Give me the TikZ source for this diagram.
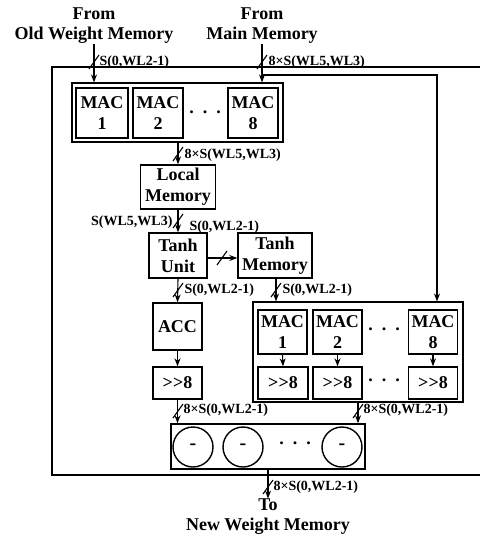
\documentclass[tikz,border=0pt]{standalone}
\usepackage{fontspec}
\setmainfont{Liberation Serif}
\usetikzlibrary{arrows.meta,positioning,calc}

% slash on a bus line
\newcommand{\busmark}[1]{\draw[line width=1.1pt] (#1) ++(-5,7) -- ++(10,-14);}

\begin{document}
\begin{tikzpicture}[x=1pt,y=-1pt,line width=1.1pt,
  every node/.style={font=\fontsize{18}{21}\selectfont\bfseries,align=center},
  box/.style={draw,line width=1.4pt,inner sep=0pt},
  grp/.style={draw,line width=1.1pt,inner sep=0pt},
  lbl/.style={font=\fontsize{14}{16}\selectfont\bfseries,inner sep=0pt},
  head/.style={font=\fontsize{18}{20}\selectfont\bfseries,inner sep=0pt},
  bus/.style={-{Stealth[length=8pt,width=6pt]}},
  sub/.style={draw,circle,line width=1.4pt,minimum size=40pt,inner sep=0pt,
    font=\fontsize{20}{20}\selectfont\bfseries}]
  \useasboundingbox (0,0) rectangle (480,539);

  % outer frame (open to the right)
  \draw (482,67) -- (52,67) -- (52,475) -- (482,475);

  % inputs
  \node[head] (oldw) at (94,26) {From\\Old Weight Memory};
  \node[head] (mainm) at (262,26) {From\\Main Memory};

  % first MAC array
  \node[grp,minimum width=211pt,minimum height=59pt] (grp1) at (177.5,112.5) {};
  \node[box,minimum width=52pt,minimum height=50pt] (maca1) at (102,113) {MAC\\1};
  \node[box,minimum width=50pt,minimum height=50pt] (maca2) at (158,113) {MAC\\2};
  \node[box,minimum width=50pt,minimum height=50pt] (maca8) at (253,113) {MAC\\8};
  \node (dotsa) at (205,112) {.\,\,\,.\,\,\,.};

  \draw[bus] (oldw.south) -- (oldw.south |- grp1.north);
  \busmark{94,62}
  \node[lbl,anchor=west] (lold) at (99,62) {S(0,WL2-1)};
  \draw[bus] (mainm.south) -- (mainm.south |- grp1.north);
  \busmark{262,62}
  \node[lbl,anchor=west] (lmain) at (268,62) {8×S(WL5,WL3)};

  % local memory and tanh
  \node[box,minimum width=75pt,minimum height=44pt] (locm) at (178,187) {Local\\Memory};
  \node[box,minimum width=58pt,minimum height=45pt] (tanhu) at (178,255.5) {Tanh\\Unit};
  \node[box,minimum width=74pt,minimum height=45pt] (tanhm) at (275,255.5) {Tanh\\Memory};

  \draw[bus] (grp1.south -| locm.north) -- (locm.north);
  \busmark{178,154}
  \node[lbl,anchor=west] (lloc) at (184,155) {8×S(WL5,WL3)};
  \draw[bus] (locm.south) -- (tanhu.north);
  \busmark{178,221}
  \node[lbl,anchor=east] (lwl) at (173,222) {S(WL5,WL3)};
  \node[lbl,anchor=west] (ltu) at (189,227) {S(0,WL2-1)};
  \draw[bus] (tanhu.east |- 0,258) -- (tanhm.west |- 0,258);
  \busmark{222,258}

  % accumulator path
  \node[box,minimum width=49pt,minimum height=47pt] (acc) at (177.5,326.5) {ACC};
  \node[box,minimum width=49pt,minimum height=32pt] (sha) at (177.5,383) {>{}>8};
  \draw[bus] (tanhu.south) -- (acc.north);
  \busmark{178,290}
  \node[lbl,anchor=west] (lacc) at (184,290) {S(0,WL2-1)};
  \draw[bus] (acc.south) -- (sha.north);

  % second MAC array
  \node[grp,minimum width=210pt,minimum height=100pt] (grp2) at (358,352) {};
  \node[box,minimum width=49pt,minimum height=44pt] (macb1) at (282.5,332) {MAC\\1};
  \node[box,minimum width=49pt,minimum height=44pt] (macb2) at (337.5,332) {MAC\\2};
  \node[box,minimum width=49pt,minimum height=44pt] (macb8) at (433,332) {MAC\\8};
  \node[box,minimum width=50pt,minimum height=32pt] (shb1) at (283,383) {>{}>8};
  \node[box,minimum width=49pt,minimum height=32pt] (shb2) at (337.5,383) {>{}>8};
  \node[box,minimum width=49pt,minimum height=32pt] (shb8) at (433,383) {>{}>8};
  \node (dotsb) at (384,329) {.\,\,\,.\,\,\,.};
  \node (dotsc) at (384,380) {.\,\,\,.\,\,\,.};
  \draw[bus] (macb1.south) -- (shb1.north);
  \draw[bus] (macb2.south) -- (shb2.north);
  \draw[bus] (macb8.south) -- (shb8.north);

  \draw[bus] (tanhm.south -| 276,0) -- (grp2.north -| 276,0);
  \busmark{276,290}
  \node[lbl,anchor=west] (ltm) at (282,290) {S(0,WL2-1)};

  % weights from main memory to second array
  \coordinate (tap) at (262,75);
  \coordinate (turn) at (437,75);
  \draw[bus] (tap) -- (turn) -- (turn |- grp2.north);

  % subtractors
  \node[grp,line width=1.4pt,minimum width=194pt,minimum height=45pt] (subb) at (268,446.5) {};
  \node[sub] (sub1) at (193,447) {-};
  \node[sub] (sub2) at (243,447) {-};
  \node[sub] (sub8) at (342,447) {-};
  \node (dotsd) at (295,443) {.\,\,\,.\,\,\,.};

  \draw[bus] (sha.south) -- (sha.south |- subb.north);
  \busmark{178,411}
  \node[lbl,anchor=west] (lsha) at (183,410) {8×S(0,WL2-1)};
  \draw[bus] (grp2.south -| 358,0) -- (subb.north -| 358,0);
  \busmark{358,411}
  \node[lbl,anchor=west] (lshb) at (363,410) {8×S(0,WL2-1)};

  % output
  \node[head] (neww) at (268,517) {To\\New Weight Memory};
  \draw[bus] (subb.south) -- (neww.north);
  \busmark{268,487}
  \node[lbl,anchor=west] (lout) at (273,487) {8×S(0,WL2-1)};
\end{tikzpicture}
\end{document}
